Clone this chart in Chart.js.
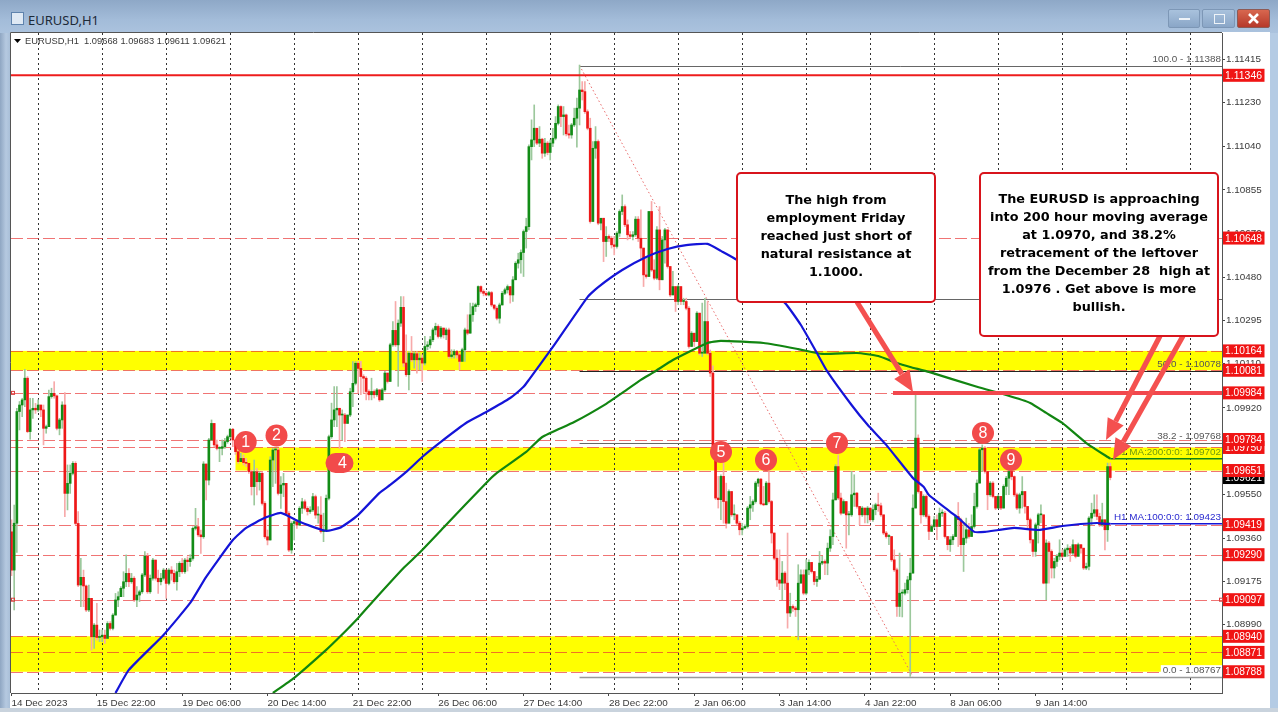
<!DOCTYPE html>
<html><head><meta charset="utf-8"><title>EURUSD,H1</title>
<script src="https://cdn.jsdelivr.net/npm/chart.js@4"></script>
<style>
html,body{margin:0;padding:0;width:1278px;height:712px;overflow:hidden;background:#b4cbe4;font-family:"Liberation Sans",sans-serif}
#title{position:absolute;left:0;top:0;width:1278px;height:33px;background:linear-gradient(180deg,#8ea8c7 0,#a3bcd9 60%,#abc3de 100%)}
#left{position:absolute;left:0;top:33px;width:10px;height:679px;background:linear-gradient(90deg,#8fa6c2 0,#b5c9e0 60%,#a9bfd8 100%)}
#paper{position:absolute;left:10px;top:32px;width:1260px;height:678px;background:#fff}
#bottom{position:absolute;left:0;top:708px;width:1278px;height:4px;background:#c9d3dd}
canvas{position:absolute;left:0;top:0}
#ttl{position:absolute;left:28px;top:11px;font:13px "Noto Sans",sans-serif;color:#1d2a38}
#ico{position:absolute;left:11px;top:12px;width:11px;height:11px;background:#dfe9f4;border:1px solid #5f83ad}
.btn{position:absolute;top:9px;height:19px;border-radius:2px;border:1px solid #7d97b6;background:linear-gradient(180deg,#a9c2dd,#8aa6c7);box-sizing:border-box}
#b3{background:linear-gradient(180deg,#d8674f,#b6392a);border-color:#8d5a55}
.g{position:absolute;background:#eef3f8}
</style></head><body>
<div id="title"></div><div id="left"></div><div id="paper"></div><div id="bottom"></div>
<div id="ico"></div><div id="ttl">EURUSD,H1</div>
<div class="btn" style="left:1168px;width:32px"><div class="g" style="left:10px;top:8px;width:11px;height:2px"></div></div>
<div class="btn" style="left:1202px;width:33px"><div class="g" style="left:11px;top:4px;width:9px;height:8px;background:none;border:1px solid #eef3f8"></div></div>
<div class="btn" id="b3" style="left:1237px;width:33px"><svg width="31" height="17" style="position:absolute;left:0;top:0"><path d="M11 4L20 13M20 4L11 13" stroke="#fff" stroke-width="2.6"/></svg></div>
<canvas id="c" width="1278" height="712"></canvas>
<script>
// All prices are stored in points above 1.08000 (1 point = 0.00001)
const BASE = 1.08;
const firstOpen = 1388;
const closes = [
1224,1425,1904,1932,1954,2047,1818,1911,1918,1911,1932,1911,1832,1839,1968,1982,1971,1832,1868,1932,
1553,1596,1639,1682,1424,1160,1193,1156,1053,1103,938,988,935,938,945,931,995,974,1031,1096,
1110,1146,1174,1210,1174,1189,1096,1117,1131,1203,1284,1131,1189,1267,1189,1174,1189,1224,1167,1224,
1210,1174,1217,1253,1217,1267,1260,1274,1403,1410,1375,1367,1679,1610,1782,1853,1761,1746,1746,1753,
1775,1796,1828,1782,1732,1689,1703,1685,1682,1646,1582,1646,1603,1639,1510,1367,1353,1696,1739,1739,
1553,1589,1596,1467,1310,1424,1432,1417,1489,1517,1489,1475,1482,1539,1460,1460,1389,1396,1532,1796,
1868,1911,1918,1889,1889,1853,1889,1989,2025,2111,2089,2054,2047,1990,1976,1990,1976,1997,1954,1997,
2069,2033,2190,2252,2190,2283,2351,2112,2062,2154,2126,2152,2126,2133,2112,2183,2190,2212,2254,2269,
2226,2262,2233,2254,2140,2147,2162,2147,2119,2169,2254,2240,2319,2354,2362,2440,2419,2411,2404,2414,
2361,2347,2304,2361,2411,2426,2440,2404,2469,2540,2555,2586,2676,2697,3040,3069,3119,3055,3072,3012,
3055,3015,3055,3076,3140,3212,3169,3176,3095,3090,3133,3162,3205,3283,3276,3190,3119,2719,3033,3062,
2712,2733,2633,2655,2647,2619,2612,2669,2762,2783,2705,2662,2655,2662,2729,2647,2605,2490,2483,2762,
2511,2476,2683,2469,2640,2683,2526,2404,2440,2376,2440,2376,2376,2347,2183,2240,2204,2326,2154,2154,
2290,2154,2069,1739,1533,1526,1626,1518,1425,1561,1461,1461,1425,1397,1404,1411,1490,1504,1518,1597,
1614,1508,1504,1597,1518,1383,1275,1182,1168,1211,1168,1040,1068,1061,1054,1168,1204,1125,1225,1257,
1218,1175,1185,1254,1261,1254,1318,1368,1525,1668,1533,1468,1518,1461,1461,1547,1554,1497,1461,1490,
1461,1490,1440,1483,1504,1500,1461,1383,1368,1368,1268,1225,1068,1125,1125,1140,1182,1211,1490,1790,
1561,1461,1540,1454,1390,1411,1440,1411,1468,1468,1368,1333,1354,1368,1454,1440,1333,1361,1397,1368,
1411,1497,1597,1740,1747,1647,1547,1597,1540,1490,1540,1490,1583,1618,1647,1625,1547,1490,1547,1561,
1497,1440,1354,1304,1418,1461,1461,1168,1340,1304,1233,1261,1283,1297,1283,1311,1318,1297,1333,1283,
1333,1318,1233,1240,1447,1468,1483,1454,1418,1440,1397,1668,1621];
const highs = [
1440,1503,1918,1947,1961,2085,2054,1961,1961,1939,1954,1932,1932,1846,1996,2004,2032,1975,1875,1946,
1985,1675,1675,1689,1689,1475,1274,1224,1160,1160,1103,995,1081,967,967,967,1003,1003,1038,1124,
1131,1153,1217,1289,1231,1210,1196,1153,1138,1210,1303,1296,1203,1274,1267,1224,1210,1231,1224,1231,
1239,1224,1253,1260,1274,1274,1281,1290,1410,1489,1446,1396,1689,1675,1789,1868,1853,1782,1753,1782,
1789,1803,1832,1832,1782,1746,1725,1718,1703,1682,1653,1696,1660,1646,1646,1518,1396,1710,1746,1746,
1746,1625,1639,1596,1475,1432,1439,1439,1496,1532,1525,1496,1496,1553,1546,1496,1539,1468,1546,1803,
1940,2011,2011,1918,1911,1896,1889,2004,2118,2118,2119,2119,2062,2054,1997,2047,1997,2004,1997,2004,
2076,2069,2197,2290,2376,2297,2397,2397,2233,2161,2226,2161,2161,2155,2147,2226,2204,2226,2262,2283,
2276,2269,2262,2262,2262,2169,2169,2166,2154,2176,2262,2319,2369,2369,2369,2443,2443,2426,2419,2419,
2419,2357,2354,2369,2419,2433,2447,2440,2483,2547,2583,2597,2683,2733,3048,3155,3219,3119,3126,3076,
3076,3062,3069,3119,3169,3219,3215,3212,3180,3133,3140,3205,3248,3390,3319,3319,3198,3162,3062,3126,
3069,2733,2733,2697,2662,2655,2655,2676,2769,2833,2790,2726,2676,2676,2740,2740,2769,2605,2569,2762,
2805,2555,2697,2783,2655,2690,2640,2526,2505,2405,2447,2440,2390,2390,2354,2247,2240,2333,2326,2369,
2390,2376,2168,2100,1754,1626,1633,1683,1597,1568,1554,1504,1461,1433,1425,1418,1497,1540,1525,1604,
1618,1618,1583,1604,1647,1523,1383,1311,1311,1261,1218,1383,1125,1075,1068,1247,1225,1225,1268,1268,
1257,1218,1197,1304,1283,1268,1340,1397,1554,1676,1718,1554,1526,1518,1476,1647,1633,1557,1497,1497,
1490,1497,1490,1504,1511,1554,1511,1461,1390,1376,1368,1311,1233,1297,1140,1168,1197,1275,1547,1983,
1804,1561,1547,1547,1461,1418,1454,1461,1490,1483,1476,1368,1368,1376,1461,1514,1447,1425,1447,1425,
1461,1554,1611,1747,1761,1754,1643,1604,1604,1540,1547,1526,1590,1626,1654,1654,1628,1554,1554,1625,
1561,1497,1447,1354,1426,1468,1504,1461,1354,1347,1311,1275,1290,1354,1311,1318,1333,1326,1354,1333,
1340,1333,1318,1254,1454,1511,1547,1547,1468,1511,1440,1683,1683];
const lows = [
1200,1053,1300,1825,1882,1925,1813,1785,1875,1896,1904,1882,1761,1811,1839,1961,1961,1825,1804,1832,
1453,1482,1553,1632,1418,1153,1067,1067,1046,1046,881,888,924,917,917,910,938,967,967,1031,
1067,1110,1110,1153,1153,1167,1089,1067,1089,1124,1196,1124,1124,1181,1181,1124,1160,1181,1103,1160,
1181,1167,1138,1196,1210,1210,1220,1240,1267,1396,1367,1296,1360,1525,1589,1782,1753,1739,1689,1718,
1746,1768,1789,1753,1720,1682,1689,1675,1668,1639,1546,1503,1546,1567,1503,1360,1332,1353,1582,1596,
1546,1489,1539,1460,1303,1296,1353,1403,1417,1467,1482,1460,1467,1475,1446,1425,1382,1346,1389,1525,
1789,1839,1839,1746,1782,1775,1853,1882,1925,2018,1983,1976,1983,1954,1954,1954,1962,1969,1947,1954,
1990,2026,2033,2183,2183,2012,2269,2097,2055,1997,2119,2090,2069,2083,2033,2104,2169,2176,2204,2233,
2219,2219,2219,2212,2133,2133,2133,2133,2083,2119,2119,2233,2240,2290,2333,2354,2412,2400,2400,2400,
2354,2340,2297,2283,2361,2405,2412,2369,2376,2469,2519,2497,2483,2605,2683,2983,3040,3048,3040,2990,
2998,3005,2983,3040,3069,3133,3126,3090,3086,3076,3076,3126,3038,3133,3240,3183,3112,2712,2719,2990,
2705,2683,2547,2569,2633,2605,2576,2605,2655,2748,2697,2640,2647,2640,2655,2633,2555,2440,2476,2555,
2505,2469,2469,2426,2469,2540,2519,2397,2405,2333,2362,2362,2362,2340,2176,2183,2183,2204,2147,2140,
2154,2147,2054,1730,1526,1490,1440,1425,1404,1468,1454,1440,1418,1375,1375,1404,1404,1440,1476,1511,
1583,1504,1500,1504,1511,1340,1268,1154,1140,1097,1140,975,1025,1047,1025,925,1175,1118,1118,1204,
1211,1161,1154,1183,1247,1204,1204,1304,1333,1547,1526,1461,1468,1318,1375,1454,1497,1490,1418,1454,
1426,1426,1433,1433,1461,1476,1454,1376,1361,1333,1261,1218,1025,1025,1023,1118,1125,768,1211,1490,
1554,1425,1454,1447,1354,1390,1404,1354,1411,1454,1361,1311,1304,1333,1368,1325,1290,1218,1340,1361,
1368,1404,1490,1597,1647,1640,1483,1540,1533,1483,1490,1483,1490,1547,1547,1611,1540,1483,1468,1490,
1468,1397,1340,1283,1283,1340,1426,1165,1097,1168,1190,1190,1240,1268,1276,1283,1283,1261,1290,1276,
1283,1297,1226,1226,1225,1418,1454,1440,1411,1411,1311,1347,1611];
const maFastX = [39,44,57,67,73,83,88,95,101,108,118,123,126,130,138,142,148,154,161,171,178,187,192,194,203,216,220,229,238,246,253,261,266,272,290,296,302,306,315,321,328,338,342,344,352,355,361,365,370,376,385,394,407,411,412];
const maFastY = [697,796,946,1083,1195,1353,1405,1448,1469,1431,1392,1405,1426,1461,1555,1589,1645,1709,1774,1859,1902,1962,2010,2040,2181,2395,2438,2511,2567,2601,2618,2623,2593,2554,2370,2275,2155,2074,1932,1847,1761,1619,1581,1546,1474,1448,1388,1388,1396,1405,1396,1413,1426,1422,1423];
const maSlowX = [98,106,118,123,130,136,147,153,163,178,182,193,199,211,223,229,236,241,248,261,266,282,295,304,317,325,332,337,344,362,373,382,388,394,403,412];
const maSlowY = [697,762,882,937,1019,1096,1233,1298,1418,1598,1641,1731,1795,1859,1937,1984,2040,2074,2125,2198,2207,2198,2172,2151,2155,2142,2112,2095,2074,2010,1975,1941,1898,1855,1769,1702];
const yTickValues = [1.11415,1.1123,1.1104,1.10855,1.1067,1.1048,1.10295,1.1011,1.0992,1.09735,1.0955,1.0936,1.09175,1.0899,1.088];
const dateTickIdx = [0,32,64,96,128,160,192,224,256,288,320,352,384];
const dateTickText = ["14 Dec 2023","15 Dec 22:00","19 Dec 06:00","20 Dec 14:00","21 Dec 22:00","26 Dec 06:00","27 Dec 14:00","28 Dec 22:00","2 Jan 06:00","3 Jan 14:00","4 Jan 22:00","8 Jan 06:00","9 Jan 14:00"];
const gridIdx = [10,34,58,82,106,130,154,178,202,226,250,274,298,322,346,370,394,418,442];
const dashedLevels = [1.11346,1.10648,1.10164,1.10081,1.09984,1.09784,1.0975,1.09651,1.09419,1.0929,1.09097,1.0894,1.08871,1.08788];
const fibLevels = [1.11388,1.10388,1.10078,1.09768,1.08767];
const fibTexts = ["100.0 - 1.11388","","50.0 - 1.10078","38.2 - 1.09768","0.0 - 1.08767"];
const boxOneLines = ["The high from","employment Friday","reached just short of","natural resistance at","1.1000."];
const boxTwoLines = ["The EURUSD is approaching","into 200 hour moving average","at 1.0970, and 38.2%","retracement of the leftover","from the December 28  high at","1.0976 . Get above is more","bullish."];

const price = p => BASE + p / 100000;
const opens = [firstOpen, ...closes.slice(0, -1)];
const wickData = closes.map((c,i)=>({x:i,y:[price(Math.min(lows[i],c,opens[i])),price(Math.max(highs[i],c,opens[i]))]}));
const bodyData = closes.map((c,i)=>({x:i,y:[price(opens[i]),price(c)]}));
const up = closes.map((c,i)=>c>=opens[i]);
const F='"Liberation Sans",sans-serif';
const SMALLSIZE=9.9;
const SMALL=SMALLSIZE+'px '+F;
const TXT='#3a3a3a';

const decor = {
  id:'decor',
  beforeDraw(ch){
    const {ctx,chartArea:a,scales:{y,x}}=ch;
    const band=(p1,p2,xl)=>{ctx.fillStyle='#ffff00';ctx.fillRect(xl,y.getPixelForValue(p2),a.right-xl,y.getPixelForValue(p1)-y.getPixelForValue(p2));};
    band(1.10081,1.10164,a.left);
    band(1.09651,1.0975,x.getPixelForValue(84));
    band(1.08788,1.0894,a.left);
  },
  beforeDatasetsDraw(ch){
    const {ctx,chartArea:a,scales:{y,x}}=ch;
    ctx.save();
    ctx.lineWidth=1;
    ctx.setLineDash([12,4]);
    ctx.strokeStyle='rgba(233,50,50,.68)';
    dashedLevels.forEach(p=>{
      if(p===1.11346) return;
      const yy=Math.round(y.getPixelForValue(p))+.5;
      ctx.beginPath();ctx.moveTo(a.left,yy);ctx.lineTo(a.right,yy);ctx.stroke();
    });
    ctx.setLineDash([]);
    const xs=x.getPixelForValue(213);
    fibLevels.forEach((p,i)=>{
      const yy=Math.round(y.getPixelForValue(p))+.5;
      ctx.strokeStyle=i===2?'#222':(i===4?'#999':'#666');
      ctx.lineWidth=i===4?1.5:1;
      ctx.beginPath();ctx.moveTo(xs,yy);ctx.lineTo(a.right,yy);ctx.stroke();
    });
    ctx.lineWidth=1;
    ctx.setLineDash([1.5,2.5]);
    ctx.strokeStyle='#e86a6a';
    ctx.beginPath();ctx.moveTo(xs,y.getPixelForValue(1.11388));ctx.lineTo(x.getPixelForValue(338),y.getPixelForValue(1.08767));ctx.stroke();
    ctx.setLineDash([]);
    ctx.restore();
  },
  afterDatasetsDraw(ch){
    const {ctx,chartArea:a,scales:{y,x}}=ch;
    ctx.save();
    ctx.strokeStyle='#ee1c1c';ctx.lineWidth=2;
    let yy=y.getPixelForValue(1.11346);
    ctx.beginPath();ctx.moveTo(a.left,yy);ctx.lineTo(a.right,yy);ctx.stroke();
    const xe=x.getPixelForValue(412);
    ctx.lineWidth=1.5;
    ctx.strokeStyle='#1414d8';yy=y.getPixelForValue(1.09423);ctx.beginPath();ctx.moveTo(xe,yy);ctx.lineTo(a.right,yy);ctx.stroke();
    ctx.strokeStyle='#118511';yy=y.getPixelForValue(1.09702);ctx.beginPath();ctx.moveTo(xe,yy);ctx.lineTo(a.right,yy);ctx.stroke();
    ctx.font=SMALL;ctx.textAlign='right';ctx.textBaseline='middle';
    const R=a.right-1;
    fibLevels.forEach((p,i)=>{
      if(!fibTexts[i])return;
      const yp=y.getPixelForValue(p)-6.5;
      if(i===4){ctx.fillStyle='#fff';const w=ctx.measureText(fibTexts[i]).width;ctx.fillRect(R-w-2,yp-5,w+3,10);}
      ctx.fillStyle='#555';
      ctx.fillText(fibTexts[i],R,yp);
    });
    ctx.fillStyle='#2a2ad0';ctx.fillText('H1 MA:100:0:0: 1.09423',R,y.getPixelForValue(1.09423)-6.5);
    ctx.fillStyle='#6f9a10';ctx.fillText('H1 MA:200:0:0: 1.09702',R,y.getPixelForValue(1.09702)-6.5);
    ctx.textAlign='left';ctx.fillStyle=TXT;
    ctx.fillText('EURUSD,H1  1.09668 1.09683 1.09611 1.09621',25,41.5,201);
    ctx.fillStyle='#000';ctx.beginPath();ctx.moveTo(14,39);ctx.lineTo(21,39);ctx.lineTo(17.5,43);ctx.closePath();ctx.fill();
    ctx.strokeStyle='#f2474d';ctx.lineWidth=4;
    yy=y.getPixelForValue(1.09984);
    ctx.beginPath();ctx.moveTo(893,yy);ctx.lineTo(a.right,yy);ctx.stroke();
    ctx.strokeStyle='#d94040';ctx.lineWidth=1;
    ctx.strokeRect(11.5,y.getPixelForValue(1.09984)-1.5,3,3);
    ctx.strokeRect(11.5,y.getPixelForValue(1.09097)-1.5,3,3);
    ctx.strokeRect(1219.5,y.getPixelForValue(1.09097)-1.5,3,3);
    const arrow=(x0,y0,x1,y1)=>{
      const t=Math.atan2(y1-y0,x1-x0),L=21,W=9;
      const bx=x1-L*Math.cos(t),by=y1-L*Math.sin(t);
      ctx.strokeStyle='#f4504f';ctx.fillStyle='#f4504f';ctx.lineWidth=5.2;
      ctx.beginPath();ctx.moveTo(x0,y0);ctx.lineTo(bx,by);ctx.stroke();
      ctx.beginPath();ctx.moveTo(x1,y1);ctx.lineTo(bx-W*Math.sin(t),by+W*Math.cos(t));ctx.lineTo(bx+W*Math.sin(t),by-W*Math.cos(t));ctx.closePath();ctx.fill();
    };
    arrow(857,302,913,392);
    arrow(1160,336,1106,440);
    arrow(1183,336,1113,460);
    const box=(l,t,r,b,lines,first)=>{
      ctx.beginPath();ctx.roundRect(l,t,r-l,b-t,4);
      ctx.fillStyle='#fff';ctx.fill();ctx.strokeStyle='#d8141c';ctx.lineWidth=2;ctx.stroke();
      ctx.fillStyle='#000';ctx.font='bold 12.8px "DejaVu Sans",sans-serif';ctx.textAlign='center';ctx.textBaseline='middle';
      lines.forEach((s,i)=>ctx.fillText(s,(l+r)/2,first+i*18));
    };
    box(737,173,935,302,boxOneLines,201);
    box(980,173,1218,336,boxTwoLines,200);
    const marks=[[245.7,442,'1'],[276.5,435.5,'2'],[339.5,463,'4',14],[721,452,'5'],[766,460,'6'],[837,443,'7'],[983,433,'8'],[1011,460,'9']];
    marks.forEach(([mx,my,s,hw])=>{
      ctx.fillStyle='#f24a4a';ctx.beginPath();
      if(hw){ctx.roundRect(mx-hw,my-10,hw*2,20,10);}else{ctx.arc(mx,my,11,0,Math.PI*2);}
      ctx.fill();
      ctx.fillStyle='#fff';ctx.font='16px '+F;ctx.textAlign='center';ctx.textBaseline='middle';
      ctx.fillText(s,mx+(hw?3:0),my+.5);
    });
    ctx.restore();
  },
  afterDraw(ch){
    const {ctx,chartArea:a,scales:{y}}=ch;
    ctx.save();
    ctx.strokeStyle='#555';ctx.lineWidth=1;
    ctx.beginPath();ctx.moveTo(a.left-.5,a.bottom);ctx.lineTo(a.left-.5,a.top-.5);ctx.lineTo(a.right,a.top-.5);ctx.stroke();
    ctx.font='11px '+F;ctx.textAlign='left';ctx.textBaseline='middle';
    const tag=(p,bg)=>{
      const yy=y.getPixelForValue(p);
      ctx.fillStyle=bg;ctx.fillRect(a.right+1,yy-6.5,41.5,13);
      ctx.fillStyle='#fff';ctx.fillText(p.toFixed(5),a.right+3,yy+.5,37);
    };
    tag(1.09621,'#000');
    dashedLevels.slice().sort((p,q)=>p-q).forEach(p=>tag(p,'#f01414'));
    ctx.restore();
  }
};

new Chart(document.getElementById('c'),{
  type:'bar',
  plugins:[decor],
  data:{datasets:[
    {type:'line',label:'MA 100',data:maFastX.map((v,i)=>({x:v,y:price(maFastY[i])})),borderColor:'#1414d8',borderWidth:2.2,pointRadius:0,tension:.15,order:1},
    {type:'line',label:'MA 200',data:maSlowX.map((v,i)=>({x:v,y:price(maSlowY[i])})),borderColor:'#118511',borderWidth:2.2,pointRadius:0,tension:.15,order:2},
    {label:'Body',data:bodyData,grouped:false,barThickness:2,minBarLength:1,backgroundColor:up.map(u=>u?'#128c16':'#ee1818'),borderWidth:0,order:4},
    {label:'Wick',data:wickData,grouped:false,barThickness:1,backgroundColor:up.map(u=>u?'#9cc89c':'#f7aaaa'),borderWidth:0,order:5}
  ]},
  options:{
    responsive:false,animation:false,devicePixelRatio:1,
    layout:{padding:{left:11,top:33,right:0,bottom:0}},
    plugins:{legend:{display:false},tooltip:{enabled:false}},
    scales:{
      x:{type:'linear',offset:false,min:-0.19,max:453.9,position:'bottom',
        afterBuildTicks(s){s.ticks=[...dateTickIdx,...gridIdx].sort((p,q)=>p-q).map(v=>({value:v}));},
        afterFit(s){s.height=19;},
        border:{color:'#555',dash:[2,3]},
        grid:{offset:false,lineWidth:1,tickLength:3,
          color:c=>gridIdx.includes(c.tick&&c.tick.value)?'#333':'rgba(0,0,0,0)',
          tickColor:c=>dateTickIdx.includes(c.tick&&c.tick.value)?'#444':'rgba(0,0,0,0)'},
        ticks:{autoSkip:false,maxRotation:0,minRotation:0,align:'start',padding:1,color:TXT,font:{family:'Liberation Sans',size:SMALLSIZE},
          callback:v=>{const k=dateTickIdx.indexOf(v);return k<0?'':dateTickText[k];}}
      },
      y:{type:'linear',position:'right',min:1.086969,max:1.115274,
        afterBuildTicks(s){s.ticks=yTickValues.map(v=>({value:v}));},
        afterFit(s){s.width=56;},
        border:{color:'#555'},
        grid:{drawOnChartArea:false,tickLength:3,tickColor:'#444'},
        ticks:{autoSkip:false,padding:1,color:TXT,font:{family:'Liberation Sans',size:SMALLSIZE},callback:v=>v.toFixed(5)}
      }
    }
  }
});
</script></body></html>
